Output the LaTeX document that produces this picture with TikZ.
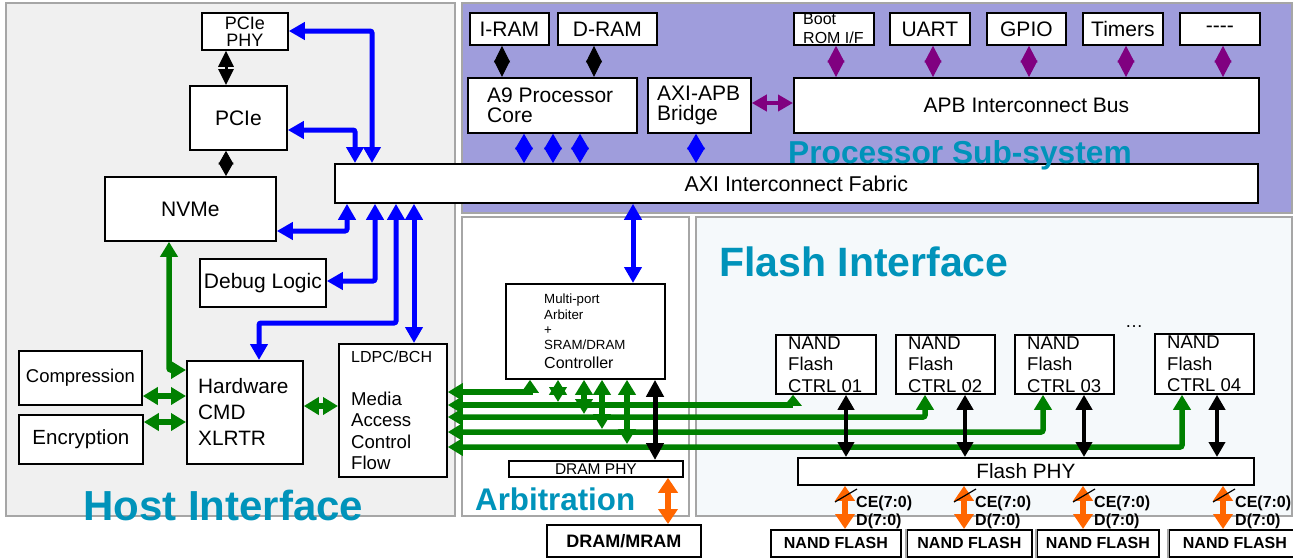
\documentclass[tikz,border=0pt]{standalone}
\usepackage{fontspec}
\setmainfont{Liberation Sans}
\usetikzlibrary{arrows.meta}
\definecolor{hostbg}{HTML}{F0F0F0}
\definecolor{procbg}{HTML}{9F9DDC}
\definecolor{flashbg}{HTML}{F5F9FB}
\definecolor{panelgray}{HTML}{A6A6A6}
\definecolor{titlec}{HTML}{0093BA}
\definecolor{arrblue}{HTML}{0000FF}
\definecolor{arrgreen}{HTML}{008000}
\definecolor{arrpurple}{HTML}{800080}
\definecolor{arrorange}{HTML}{FF6600}
\newcommand\fsz[2]{\fontsize{#1pt}{#2pt}\selectfont}
\begin{document}
\begin{tikzpicture}[x=1pt,y=-1pt,
  panel/.style={draw=panelgray,line width=1.4pt},
  box/.style={draw=black,fill=white,line width=1.8pt,inner sep=0pt,anchor=north west,font=\fsz{21}{24}},
  txt/.style={inner sep=0pt,align=left,anchor=west},
  ttl/.style={inner sep=0pt,anchor=base west,text=titlec,font=\bfseries\fsz{#1}{#1}},
  lbl/.style={inner sep=0pt,anchor=base west,font=\bfseries\fsz{16}{16}},
  barr/.style={draw=arrblue,line width=5pt,rounded corners=2pt,{Triangle[length=16pt,width=17pt]}-{Triangle[length=16pt,width=17pt]}},
  garr/.style={draw=arrgreen,line width=5.5pt,{Triangle[length=15pt,width=17pt]}-{Triangle[length=#1,width=17pt]}},
  garr/.default=15pt,
  karr/.style={draw=black,line width=4pt,{Triangle[length=15pt,width=16pt]}-{Triangle[length=15pt,width=16pt]}},
  oarr/.style={draw=arrorange,line width=6pt,{Triangle[length=15pt,width=19pt]}-{Triangle[length=15pt,width=19pt]}},
  parr/.style={draw=arrpurple,line width=4pt,{Triangle[length=15pt,width=16pt]}-{Triangle[length=15pt,width=16pt]}},
  dia/.style n args={3}{draw=#1,line width=1pt,{Triangle[length=#2,width=#3]}-{Triangle[length=#2,width=#3]}},
  slash/.style={draw=black,line width=1.2pt}
]
\useasboundingbox (0,0) rectangle (1293,557);
\fill[white] (0,0) rectangle (1293,557);

% panels
\filldraw[panel,fill=hostbg] (6,3) rectangle (455,516);
\filldraw[panel,fill=procbg] (462,3) rectangle (1292,213);
\filldraw[panel,fill=white] (462,217) rectangle (689,516);
\filldraw[panel,fill=flashbg] (696,217) rectangle (1292,516);

% host interface boxes
\node[box,minimum width=86pt,minimum height=37pt,font=\fsz{18}{17},align=center] (pciephy) at (201,12) {PCIe\\PHY};
\node[box,minimum width=97pt,minimum height=64pt] (pcie) at (189,85) {PCIe};
\node[box,minimum width=171pt,minimum height=64pt] (nvme) at (104,176) {NVMe};
\node[box,minimum width=126pt,minimum height=48pt] (debug) at (199,258) {Debug Logic};
\node[box,minimum width=123pt,minimum height=54pt,font=\fsz{18.5}{20}] (comp) at (18,350) {Compression};
\node[box,minimum width=124pt,minimum height=49pt,font=\fsz{20.5}{22}] (enc) at (18,414) {Encryption};
\node[box,minimum width=116pt,minimum height=103pt] (hw) at (186,360) {};
\node[txt,font=\fsz{20.8}{26}] (hwt) at ([xshift=12pt]hw.west) {Hardware\\CMD\\XLRTR};
\node[box,minimum width=108pt,minimum height=133pt] (ldpc) at (338,343) {};
\node[txt,font=\fsz{18.6}{21.3}] (ldpct) at ([xshift=13pt]ldpc.west) {{\fsz{16}{16}LDPC/BCH}\\[21.7pt]Media\\Access\\Control\\Flow};

% processor sub-system boxes
\node[box,minimum width=79pt,minimum height=32pt] (iram) at (469,12) {I-RAM};
\node[box,minimum width=99pt,minimum height=32pt] (dram) at (557,12) {D-RAM};
\node[box,minimum width=169pt,minimum height=55pt] (a9) at (467,77) {};
\node[txt,font=\fsz{21}{20}] (a9t) at ([xshift=20pt]a9.west) {A9 Processor\\Core};
\node[box,minimum width=103pt,minimum height=55pt] (axiapb) at (647,77) {};
\node[txt,font=\fsz{21}{20}] (axiapbt) at ([xshift=10pt]axiapb.west) {AXI-APB\\Bridge};
\node[box,minimum width=465pt,minimum height=55pt] (apb) at (793,77) {APB Interconnect Bus};
\node[box,minimum width=80pt,minimum height=32pt] (boot) at (793,12) {};
\node[txt,font=\fsz{16}{19}] (boott) at ([xshift=10pt]boot.west) {Boot\\ROM I/F};
\node[box,minimum width=80pt,minimum height=32pt] (uart) at (889,12) {UART};
\node[box,minimum width=79pt,minimum height=32pt] (gpio) at (986,12) {GPIO};
\node[box,minimum width=80pt,minimum height=32pt] (timers) at (1082,12) {Timers};
\node[box,minimum width=80pt,minimum height=32pt] (more) at (1179,12) {-{}-{}-{}-};
\node[box,minimum width=923pt,minimum height=39pt,font=\fsz{21.4}{24}] (fabric) at (334,163) {AXI Interconnect Fabric};

% arbitration boxes
\node[box,minimum width=159pt,minimum height=95pt] (arb) at (505,283) {};
\node[txt,font=\fsz{13.3}{15.4}] (arbt) at ([xshift=39pt]arb.west) {Multi-port\\Arbiter\\+\\SRAM/DRAM\\[3.3pt]{\fsz{16}{16}Controller}};
\node[box,minimum width=174pt,minimum height=16pt,font=\fsz{15.5}{16}] (dphy) at (508,460) {DRAM PHY};
\node[box,minimum width=154pt,minimum height=32pt,font=\bfseries\fsz{18}{18}] (dmram) at (546,524) {DRAM/MRAM};

% flash interface boxes
\node[box,minimum width=100pt,minimum height=59pt] (c1) at (775,334) {};
\node[box,minimum width=99pt,minimum height=59pt] (c2) at (895,334) {};
\node[box,minimum width=99pt,minimum height=59pt] (c3) at (1014,334) {};
\node[box,minimum width=99pt,minimum height=60pt] (c4) at (1154,333) {};
\node[txt,font=\fsz{18.5}{21.5}] (c1t) at ([xshift=13pt]c1.west) {NAND\\Flash\\CTRL 01};
\node[txt,font=\fsz{18.5}{21.5}] (c2t) at ([xshift=13pt]c2.west) {NAND\\Flash\\CTRL 02};
\node[txt,font=\fsz{18.5}{21.5}] (c3t) at ([xshift=13pt]c3.west) {NAND\\Flash\\CTRL 03};
\node[txt,font=\fsz{18.5}{21.5}] (c4t) at ([xshift=13pt]c4.west) {NAND\\Flash\\CTRL 04};
\node[inner sep=0pt,anchor=base,font=\fsz{18}{18}] (dots) at (1134,327) {…};
\node[box,minimum width=456pt,minimum height=27pt,font=\fsz{20.7}{22}] (fphy) at (797,457) {Flash PHY};
\node[box,minimum width=130pt,minimum height=27pt,font=\bfseries\fsz{16}{16}] (nf1) at (770,529) {NAND FLASH};
\node[box,minimum width=125pt,minimum height=27pt,font=\bfseries\fsz{16}{16}] (nf2) at (906,529) {NAND FLASH};
\node[box,minimum width=122pt,minimum height=27pt,font=\bfseries\fsz{16}{16}] (nf3) at (1036,529) {NAND FLASH};
\node[box,minimum width=132pt,minimum height=27pt,font=\bfseries\fsz{16}{16}] (nf4) at (1168,529) {NAND FLASH};
\draw[panelgray,line width=1.8pt] (nf2.north west) -- (nf2.south west) (nf3.north west) -- (nf3.south west) (nf4.north west) -- (nf4.south west);

% black diamonds / arrows
\draw[dia={black}{16.5pt}{16pt}] (iram.south -| 502,0) -- (a9.north -| 502,0);
\draw[dia={black}{16.5pt}{16pt}] (dram.south -| 594,0) -- (a9.north -| 594,0);
\draw[dia={black}{13.5pt}{15pt}] (pcie.south -| 226,0) -- (nvme.north -| 226,0);
\draw[draw=black,line width=3pt,{Triangle[length=16pt,width=15pt]}-{Triangle[length=16pt,width=15pt]}] (pciephy.south -| 226,0) -- (pcie.north -| 226,0);

% purple
\draw[dia={arrpurple}{16.5pt}{17pt}] (boot.south -| 836,0) -- (apb.north -| 836,0);
\draw[dia={arrpurple}{16.5pt}{17pt}] (uart.south -| 933,0) -- (apb.north -| 933,0);
\draw[dia={arrpurple}{16.5pt}{17pt}] (gpio.south -| 1029,0) -- (apb.north -| 1029,0);
\draw[dia={arrpurple}{16.5pt}{17pt}] (timers.south -| 1126,0) -- (apb.north -| 1126,0);
\draw[dia={arrpurple}{16.5pt}{17pt}] (more.south -| 1223,0) -- (apb.north -| 1223,0);
\draw[parr] (axiapb.east |- 0,103) -- (apb.west |- 0,103);

% blue
\draw[dia={arrblue}{15.5pt}{18pt}] (a9.south -| 524,0) -- (fabric.north -| 524,0);
\draw[dia={arrblue}{15.5pt}{18pt}] (a9.south -| 553,0) -- (fabric.north -| 553,0);
\draw[dia={arrblue}{15.5pt}{18pt}] (a9.south -| 580,0) -- (fabric.north -| 580,0);
\draw[dia={arrblue}{15.5pt}{18pt}] (axiapb.south -| 696,0) -- (fabric.north -| 696,0);
\draw[barr] (pciephy.east |- 0,31) -| (fabric.north -| 372,0);
\draw[barr] (pcie.east |- 0,130) -| (fabric.north -| 355,0);
\draw[barr] (nvme.east |- 0,231) -| (fabric.south -| 347,0);
\draw[barr] (debug.east |- 0,281) -| (fabric.south -| 375,0);
\draw[barr] (fabric.south -| 396,0) -- (396,323) -| (hw.north -| 259,0);
\draw[barr] (fabric.south -| 414,0) -- (ldpc.north -| 414,0);
\draw[barr] (fabric.south -| 633,0) -- (arb.north -| 633,0);

% green
\draw[garr,rounded corners=2pt] (nvme.south -| 169,0) |- (hw.west |- 0,370);
\draw[garr] (comp.east |- 0,396) -- (hw.west |- 0,396);
\draw[garr] (enc.east |- 0,422) -- (hw.west |- 0,422);
\draw[garr] (hw.east |- 0,406) -- (ldpc.west |- 0,406);
\draw[garr=13pt] (ldpc.east |- 0,392) -| (arb.south -| 530,0);
\draw[garr=11pt] (ldpc.east |- 0,405) -| (c1.south -| 793,0);
\draw[garr,rounded corners=2pt] (ldpc.east |- 0,417) -| (c2.south -| 925,0);
\draw[garr,rounded corners=2pt] (ldpc.east |- 0,432) -| (c3.south -| 1043,0);
\draw[garr,rounded corners=2pt] (ldpc.east |- 0,447) -| (c4.south -| 1182,0);
\draw[garr] (arb.south -| 558,0) -- (558,402);
\draw[garr] (arb.south -| 584,0) -- (584,414);
\draw[garr] (arb.south -| 602,0) -- (602,429);
\draw[garr] (arb.south -| 627,0) -- (627,444);

% black to PHYs
\draw[draw=black,line width=5pt,{Triangle[length=17pt,width=17pt]}-{Triangle[length=17pt,width=17pt]}] (arb.south -| 655,0) -- (dphy.north -| 655,0);
\draw[karr] (c1.south -| 846,0) -- (fphy.north -| 846,0);
\draw[karr] (c2.south -| 965,0) -- (fphy.north -| 965,0);
\draw[karr] (c3.south -| 1084,0) -- (fphy.north -| 1084,0);
\draw[karr] (c4.south -| 1217,0) -- (fphy.north -| 1217,0);

% orange
\draw[oarr] (dphy.south -| 668,0) -- (dmram.north -| 668,0);
\draw[oarr] (fphy.south -| 845,0) -- (nf1.north -| 845,0);
\draw[oarr] (fphy.south -| 964,0) -- (nf2.north -| 964,0);
\draw[oarr] (fphy.south -| 1083,0) -- (nf3.north -| 1083,0);
\draw[oarr] (fphy.south -| 1223,0) -- (nf4.north -| 1223,0);
\draw[slash] (835,502) -- (857,489);
\draw[slash] (954,502) -- (976,489);
\draw[slash] (1073,502) -- (1095,489);
\draw[slash] (1213,502) -- (1235,489);
\node[lbl] (ce1) at (856,507) {CE(7:0)};
\node[lbl] (d1) at (856,525) {D(7:0)};
\node[lbl] (ce2) at (975,507) {CE(7:0)};
\node[lbl] (d2) at (975,525) {D(7:0)};
\node[lbl] (ce3) at (1094,507) {CE(7:0)};
\node[lbl] (d3) at (1094,525) {D(7:0)};
\node[lbl] (ce4) at (1235,507) {CE(7:0)};
\node[lbl] (d4) at (1235,525) {D(7:0)};

% titles
\node[ttl=42] (thost) at (83,520) {Host Interface};
\node[ttl=31.7] (tproc) at (788,163) {Processor Sub-system};
\node[ttl=41] (tflash) at (719,276) {Flash Interface};
\node[ttl=31.3] (tarb) at (475,510) {Arbitration};
\end{tikzpicture}
\end{document}
